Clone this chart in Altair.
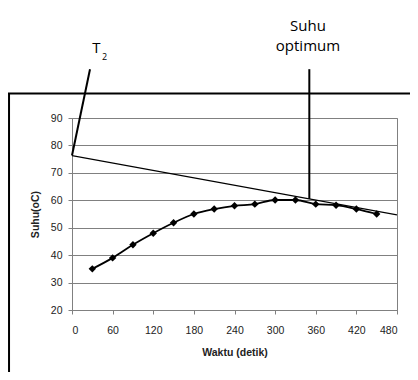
import altair as alt
import pandas as pd

# measured data
waktu = [30, 60, 90, 120, 150, 180, 210, 240, 270, 300, 330, 360, 390, 420, 450]
suhu = [35.0, 39.0, 43.8, 48.0, 51.8, 55.0, 56.8, 58.0, 58.6, 60.1, 60.1, 58.6, 58.2, 56.8, 55.0]

# tangent line
tangent_t = [0, 480]
tangent_v = [76.3, 54.7]

# annotation leader lines (data coords, drawn outside plot)
t2_line_t = [0, 26.6]
t2_line_v = [76.3, 107.8]
opt_line_t = [350.5, 350.5]
opt_line_v = [60.5, 107.8]

# frame lines
frame_h_t = [-100, 520]
frame_h_v = [98.9, 98.9]
frame_v_t = [-93, -93]
frame_v_v = [98.9, -7]

x_ticks = [0, 60, 120, 180, 240, 300, 360, 420, 480]
y_ticks = [20, 30, 40, 50, 60, 70, 80, 90]

xs = alt.Scale(domain=[0, 480], nice=False, zero=False)
ys = alt.Scale(domain=[20, 90], nice=False, zero=False)

df = pd.DataFrame({"t": waktu, "v": suhu})

axx = alt.Axis(values=x_ticks, grid=False, domainColor="#808080",
               tickColor="#808080", tickSize=4, labelPadding=11,
               labelFont="Liberation Sans", labelFontSize=10.5,
               labelColor="#222", titleFont="Liberation Sans",
               titleFontSize=10.5, titleFontWeight="bold",
               titlePadding=12, titleColor="#222", labelOverlap=False)
axy = alt.Axis(values=y_ticks, grid=True, gridColor="#808080",
               domainColor="#808080", tickColor="#808080",
               tickSize=4, labelPadding=6,
               labelFont="Liberation Sans", labelFontSize=10.5,
               labelColor="#222", titleFont="Liberation Sans",
               titleFontSize=10.5, titleFontWeight="bold",
               titlePadding=10, titleColor="#222", labelOverlap=False)

X = alt.X("t:Q", scale=xs, title="Waktu (detik)", axis=axx)
Y = alt.Y("v:Q", scale=ys, title="Suhu(oC)", axis=axy)

line = alt.Chart(df).mark_line(color="black", strokeWidth=1.8, interpolate="monotone").encode(x=X, y=Y)
pts = alt.Chart(df).mark_point(filled=True, shape="diamond", size=55, color="black", opacity=1).encode(x=X, y=Y)

def seg(ts, vs, width, clip=True):
    d = pd.DataFrame({"t": ts, "v": vs})
    return alt.Chart(d).mark_line(color="black", strokeWidth=width, clip=clip).encode(x=X, y=Y)

tangent = seg(tangent_t, tangent_v, 1.2)
t2l = seg(t2_line_t, t2_line_v, 2, clip=False)
optl = seg(opt_line_t, opt_line_v, 2, clip=False)
fh = seg(frame_h_t, frame_h_v, 2, clip=False)
fv = seg(frame_v_t, frame_v_v, 2, clip=False)

big_lab = pd.DataFrame({"t": [36.0, 348.5, 348.5], "v": [115.6, 123.6, 116.2],
                        "txt": ["T", "Suhu", "optimum"]})
small_lab = pd.DataFrame({"t": [48.0], "v": [112.2], "txt": ["2"]})

texts_big = alt.Chart(big_lab).mark_text(font="Open Sans", fontSize=15, color="black", clip=False,
                                          align="center", baseline="middle").encode(x=X, y=Y, text="txt:N")
texts_small = alt.Chart(small_lab).mark_text(font="Open Sans", fontSize=9, color="black", clip=False,
                                              align="center", baseline="middle").encode(x=X, y=Y, text="txt:N")

chart = alt.layer(line, tangent, pts, t2l, optl, fh, fv, texts_big, texts_small).properties(
    width=325, height=192,
    autosize=alt.AutoSizeParams(type="none"),
    padding={"left": 64, "top": 110, "right": 13, "bottom": 62},
).configure_view(stroke="#808080", strokeWidth=1)

chart.save("out.html", embed_options={"renderer": "svg", "actions": False})
